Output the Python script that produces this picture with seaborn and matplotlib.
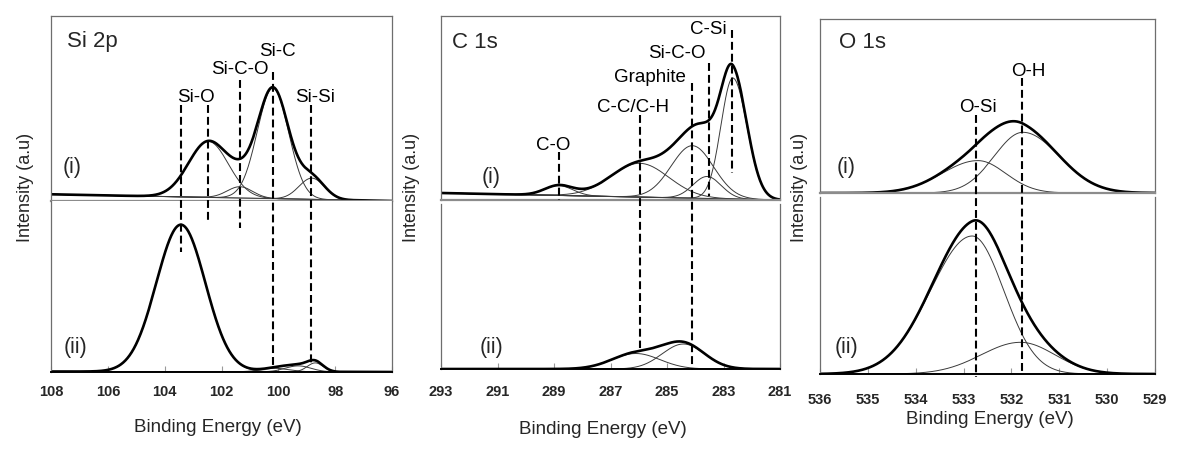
import numpy as np
import matplotlib
matplotlib.use("Agg")
import matplotlib.pyplot as plt
import seaborn as sns
from matplotlib.lines import Line2D
from matplotlib.transforms import blended_transform_factory

# ---- data: fitted peak components (eV, a.u.) ----
# Si 2p
si_i_pos = [102.46, 101.35, 100.19, 98.82]
si_i_height = [56.0, 11.3, 110.6, 21.3]
si_i_sig_hi = [0.70, 0.45, 0.55, 0.45]
si_i_sig_lo = [0.70, 0.45, 0.55, 0.45]
si_i_bg = [6.7, 0.0]
si_ii_pos = [103.43, 100.10, 99.30, 98.70]
si_ii_height = [147.0, 3.5, 6.0, 9.0]
si_ii_sig_hi = [0.86, 0.50, 0.45, 0.28]
si_ii_sig_lo = [0.86, 0.50, 0.45, 0.28]
si_ii_bg = [0.5, 0.0]
si_labels = ["Si-O", "Si-C-O", "Si-C", "Si-Si"]
si_marks = [103.43, 102.47, 101.35, 100.20, 98.86]
si_ticks = [108, 106, 104, 102, 100, 98, 96]

# C 1s
c_i_pos = [288.83, 285.96, 284.10, 283.58, 282.67]
c_i_height = [9.8, 33.8, 52.5, 22.0, 121.0]
c_i_sig_hi = [0.50, 1.02, 0.75, 0.50, 0.42]
c_i_sig_lo = [0.50, 1.02, 0.75, 0.50, 0.50]
c_i_bg = [7.0, 0.0]
c_ii_pos = [286.10, 284.42]
c_ii_height = [15.5, 25.0]
c_ii_sig_hi = [0.85, 0.75]
c_ii_sig_lo = [0.85, 0.75]
c_ii_bg = [0.0, 0.0]
c_labels = ["C-O", "C-C/C-H", "Graphite", "Si-C-O", "C-Si"]
c_marks = [288.83, 285.96, 284.12, 283.51, 282.69]
c_ticks = [293, 291, 289, 287, 285, 283, 281]

# O 1s
o_i_pos = [532.70, 531.76]
o_i_height = [32.4, 60.7]
o_i_sig_hi = [0.75, 0.60]
o_i_sig_lo = [0.58, 0.76]
o_i_bg = [0.0, 0.0]
o_ii_pos = [532.82, 531.81]
o_ii_height = [138.0, 31.7]
o_ii_sig_hi = [0.87, 0.82]
o_ii_sig_lo = [0.66, 0.72]
o_ii_bg = [0.0, 0.0]
o_labels = ["O-Si", "O-H"]
o_marks = [532.74, 531.77]
o_ticks = [536, 535, 534, 533, 532, 531, 530, 529]

W, H = 1186, 449

sns.set_theme(style="white")
plt.rcParams['font.family'] = ['Liberation Sans', 'DejaVu Sans']


def fx(px):
    return px / W


def fy(py):
    return 1 - py / H


def peak(x, c, h, s_hi, s_lo):
    s = np.where(x >= c, s_hi, s_lo)
    return h * np.exp(-0.5 * ((x - c) / s) ** 2)


def draw_spectrum(ax, xlim, pos, height, sig_hi, sig_lo, bg):
    x = np.linspace(min(xlim), max(xlim), 800)
    # linear background between the two ends of the scan
    base = bg[1] + (bg[0] - bg[1]) * (x - min(xlim)) / (max(xlim) - min(xlim))
    total = base.copy()
    if bg[0] > 0:
        sns.lineplot(x=x, y=base, ax=ax, color="#8a8a8a", linewidth=0.8)
    for c, h, sh, sl in zip(pos, height, sig_hi, sig_lo):
        comp = peak(x, c, h, sh, sl)
        total += comp
        sns.lineplot(x=x, y=base + comp, ax=ax, color="#3a3a3a", linewidth=0.7)
    sns.lineplot(x=x, y=total, ax=ax, color="black", linewidth=1.9)


def style_axes(ax_top, ax_bot, xlim, ticks, ytop, ybot, pad):
    for ax in (ax_top, ax_bot):
        ax.set_xlim(xlim)
        ax.set_yticks([])
        ax.set_ylabel("")
        ax.set_xlabel("")
        for s in ax.spines.values():
            s.set_color("#6e6e6e")
            s.set_linewidth(0.9)
    ax_top.set_ylim(0, ytop)
    ax_bot.set_ylim(0, ybot)
    ax_top.set_xticks([])
    ax_top.spines['bottom'].set_color("#8c8c8c")
    ax_top.spines['bottom'].set_linewidth(1.6)
    ax_bot.spines['top'].set_visible(False)
    ax_bot.spines['bottom'].set_color("black")
    ax_bot.spines['bottom'].set_linewidth(1.4)
    ax_bot.set_xticks(ticks)
    ax_bot.set_xticklabels([str(t) for t in ticks])
    ax_bot.tick_params(axis='x', direction='in', length=4, width=0.8,
                       color="#9a9a9a", pad=pad, labelsize=10.5, bottom=True)
    for lbl in ax_bot.get_xticklabels():
        lbl.set_fontweight('bold')


fig = plt.figure(figsize=(W / 100, H / 100), dpi=100)

panels = [
    dict(name="Si 2p", x0=51, x1=392, top=16, mid_a=201, mid_b=201, bot=372,
         xlim=(108, 96), ticks=si_ticks, pad=9.5,
         i=(si_i_pos, si_i_height, si_i_sig_hi, si_i_sig_lo, si_i_bg),
         ii=(si_ii_pos, si_ii_height, si_ii_sig_hi, si_ii_sig_lo, si_ii_bg),
         marks=si_marks,
         mark_span=[(105, 252), (105, 223), (80, 228), (72, 365), (105, 365)],
         labels=si_labels,
         label_at=[(102.9, 97), (101.35, 70), (100.04, 52), (98.7, 97)],
         title_at=(67, 42), i_at=(63, 168), ii_at=(64, 347),
         ylab_x=25, xlab_at=(218, 427)),
    dict(name="C 1s", x0=441, x1=780, top=16, mid_a=200, mid_b=204, bot=369,
         xlim=(293, 281), ticks=c_ticks, pad=11.5,
         i=(c_i_pos, c_i_height, c_i_sig_hi, c_i_sig_lo, c_i_bg),
         ii=(c_ii_pos, c_ii_height, c_ii_sig_hi, c_ii_sig_lo, c_ii_bg),
         marks=c_marks,
         mark_span=[(152, 200), (115, 348), (83, 370), (63, 196), (30, 173)],
         labels=c_labels,
         label_at=[(289.04, 145), (286.2, 107), (285.6, 78), (284.65, 53),
                   (283.55, 30)],
         title_at=(452, 43), i_at=(482, 178), ii_at=(480, 347),
         ylab_x=412, xlab_at=(603, 430)),
    dict(name="O 1s", x0=820, x1=1155, top=19, mid_a=193, mid_b=197, bot=374,
         xlim=(536, 529), ticks=o_ticks, pad=14,
         i=(o_i_pos, o_i_height, o_i_sig_hi, o_i_sig_lo, o_i_bg),
         ii=(o_ii_pos, o_ii_height, o_ii_sig_hi, o_ii_sig_lo, o_ii_bg),
         marks=o_marks,
         mark_span=[(115, 377), (78, 375)],
         labels=o_labels,
         label_at=[(532.69, 108), (531.64, 72)],
         title_at=(839, 43), i_at=(837, 167), ii_at=(835, 347),
         ylab_x=800, xlab_at=(990, 420)),
]

for p in panels:
    w = fx(p['x1']) - fx(p['x0'])
    ax_top = fig.add_axes([fx(p['x0']), fy(p['mid_a']), w,
                           fy(p['top']) - fy(p['mid_a'])])
    ax_bot = fig.add_axes([fx(p['x0']), fy(p['bot']), w,
                           fy(p['mid_b']) - fy(p['bot'])])
    draw_spectrum(ax_top, p['xlim'], *p['i'])
    draw_spectrum(ax_bot, p['xlim'], *p['ii'])
    style_axes(ax_top, ax_bot, p['xlim'], p['ticks'],
               p['mid_a'] - p['top'], p['bot'] - p['mid_b'], p['pad'])

    trans = blended_transform_factory(ax_top.transData, fig.transFigure)
    for xm, (y0, y1) in zip(p['marks'], p['mark_span']):
        fig.add_artist(Line2D([xm, xm], [fy(y0), fy(y1)], transform=trans,
                              color="black", linewidth=1.5,
                              linestyle=(0, (3.8, 1.9))))
    for txt, (xl, yl) in zip(p['labels'], p['label_at']):
        fig.text(xl, fy(yl), txt, transform=trans, ha='center', va='center',
                 fontsize=13.5, color="black")

    fig.text(fx(p['title_at'][0]), fy(p['title_at'][1]), p['name'],
             ha='left', va='center', fontsize=16)
    fig.text(fx(p['i_at'][0]), fy(p['i_at'][1]), "(i)",
             ha='left', va='center', fontsize=15.5)
    fig.text(fx(p['ii_at'][0]), fy(p['ii_at'][1]), "(ii)",
             ha='left', va='center', fontsize=15.5)
    fig.text(fx(p['ylab_x']), fy(187), "Intensity (a.u)", rotation=90,
             ha='center', va='center', fontsize=13)
    fig.text(fx(p['xlab_at'][0]), fy(p['xlab_at'][1]), "Binding Energy (eV)",
             ha='center', va='center', fontsize=13.5)

fig.savefig("out.png", dpi=100)
